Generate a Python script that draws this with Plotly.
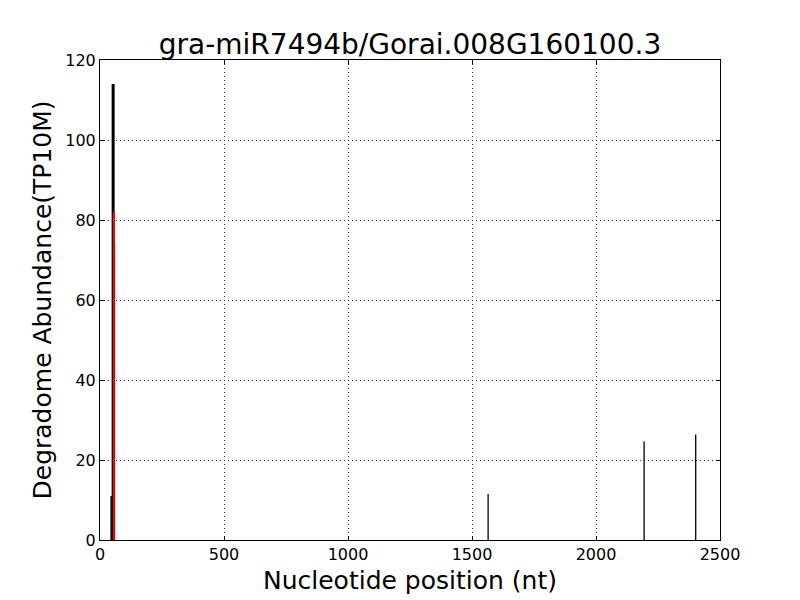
import plotly.graph_objects as go

title = "gra-miR7494b/Gorai.008G160100.3"
black_pos = [45, 53, 58, 1565, 2194, 2402]
black_val = [11, 114, 74, 11.5, 24.6, 26.4]
black_w = [1.5, 3, 1.5, 1.3, 1.3, 1.3]
red_pos = [56]
red_val = [82]

fig = go.Figure()
for p, v, w in zip(black_pos, black_val, black_w):
    fig.add_trace(go.Scatter(x=[p, p], y=[0, v], mode="lines",
                             line=dict(color="black", width=w), showlegend=False, hoverinfo="skip"))
for p, v in zip(red_pos, red_val):
    fig.add_trace(go.Scatter(x=[p, p], y=[0, v], mode="lines",
                             line=dict(color="red", width=2), showlegend=False, hoverinfo="skip"))

axis_common = dict(showline=True, linecolor="black", linewidth=1, mirror="ticks",
                   ticks="inside", ticklen=4, tickcolor="black",
                   showgrid=True, gridcolor="#333333", griddash="1px,3px", gridwidth=1,
                   zeroline=False, tickfont=dict(family="DejaVu Sans", size=16, color="black"))

fig.update_layout(
    width=800, height=600,
    margin=dict(l=92, r=88, t=52, b=68),
    paper_bgcolor="white", plot_bgcolor="white",
    title=dict(text=title, x=0.5025, xanchor="center", y=0.94, yanchor="middle",
               font=dict(family="DejaVu Sans", size=28, color="black")),
    xaxis=dict(range=[0, 2500], tickvals=[0, 500, 1000, 1500, 2000, 2500],
               title=dict(text="Nucleotide position (nt)", standoff=8,
                          font=dict(family="DejaVu Sans", size=25, color="black")),
               **axis_common),
    yaxis=dict(range=[0, 120], tickvals=[0, 20, 40, 60, 80, 100, 120],
               title=dict(text="Degradome Abundance(TP10M)", standoff=6,
                          font=dict(family="DejaVu Sans", size=25, color="black")),
               **axis_common),
)
fig.write_html("out.html")
